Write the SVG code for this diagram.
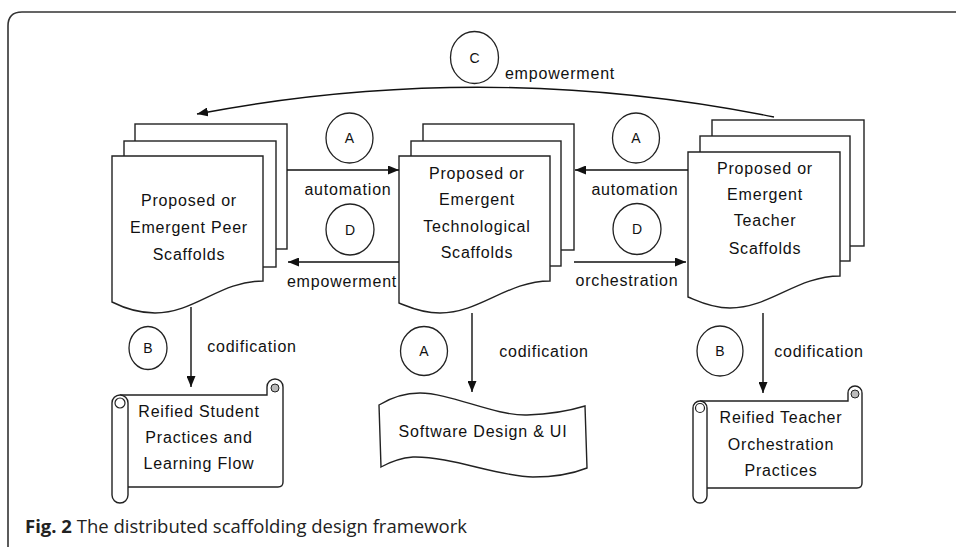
<svg xmlns="http://www.w3.org/2000/svg" width="956" height="547" viewBox="0 0 956 547">
<defs>
<marker id="ah" markerWidth="11" markerHeight="9" refX="11" refY="4.5" orient="auto" markerUnits="userSpaceOnUse">
<path d="M0,0 L11,4.5 L0,9 Z" fill="#111"/>
</marker>
<style>
.sh{fill:#fff;stroke:#222;stroke-width:1.4}
.ln{fill:none;stroke:#222;stroke-width:1.3}
.ar{fill:none;stroke:#111;stroke-width:1.4;marker-end:url(#ah)}
.t{font-family:"Liberation Sans",Arial,sans-serif;font-size:16px;fill:#111;text-anchor:middle;letter-spacing:0.8px}
.c{font-family:"Liberation Sans",Arial,sans-serif;font-size:14px;fill:#111;text-anchor:middle}
.cap{font-family:"Open Sans",sans-serif;font-size:18.5px;fill:#222}
</style>
</defs>
<rect width="956" height="547" fill="#fff"/>
<path d="M8,547 V26 Q8,12 22,12 H956" fill="none" stroke="#333" stroke-width="1.6"/>

<g id="peer">
<rect class="sh" x="135" y="124" width="152" height="125"/>
<rect class="sh" x="124" y="141" width="152" height="126"/>
<path class="sh" d="M112,156 H263 V281 C220,281 195,313 155,313 C135,313 120,306 112,302 Z"/>
<text class="t" x="189" y="206">Proposed or</text>
<text class="t" x="189" y="233">Emergent Peer</text>
<text class="t" x="189" y="260">Scaffolds</text>
</g>

<g id="tech">
<rect class="sh" x="423" y="124" width="151" height="126"/>
<rect class="sh" x="411" y="141" width="150" height="125"/>
<path class="sh" d="M399,156 H550 V281 C507,281 480,313 440,313 C420,313 407,306 399,303 Z"/>
<text class="t" x="477" y="179">Proposed or</text>
<text class="t" x="477" y="205">Emergent</text>
<text class="t" x="477" y="232">Technological</text>
<text class="t" x="477" y="258">Scaffolds</text>
</g>

<g id="teacher">
<rect class="sh" x="712" y="120" width="152" height="126"/>
<rect class="sh" x="700" y="136" width="150" height="125"/>
<path class="sh" d="M688,152 H840 V276 C797,276 770,308 730,308 C710,308 696,300 688,297 Z"/>
<text class="t" x="765" y="174">Proposed or</text>
<text class="t" x="765" y="200">Emergent</text>
<text class="t" x="765" y="226">Teacher</text>
<text class="t" x="765" y="254">Scaffolds</text>
</g>

<g id="student">
<path class="sh" d="M120,395 H267 V387 A8,8 0 0 1 283,387 V482 Q283,487 278,487 H128"/>
<circle cx="275" cy="388" r="4" fill="#bbb" stroke="#222" stroke-width="1"/>
<rect class="sh" x="112" y="395" width="16" height="108" rx="8"/>
<circle cx="120" cy="403" r="5" fill="none" stroke="#222" stroke-width="1.2"/>
<text class="t" x="199" y="417">Reified Student</text>
<text class="t" x="199" y="443">Practices and</text>
<text class="t" x="199" y="469">Learning Flow</text>
</g>

<g id="software">
<path class="sh" d="M379,405 C392,397 405,393 420,393 C450,393 495,416 527,415 C555,414 572,410 585,406 L587,468 C572,474 555,477 533,477 C500,477 450,456 413,457 C400,458 390,462 381,467 Z"/>
<text class="t" x="483" y="437">Software Design &amp; UI</text>
</g>

<g id="teacherpractice">
<path class="sh" d="M700,401 H848 V393 A7,7 0 0 1 862,393 V483 Q862,488 857,488 H707"/>
<circle cx="855" cy="394" r="4" fill="#bbb" stroke="#222" stroke-width="1"/>
<rect class="sh" x="693" y="401" width="14" height="102" rx="7"/>
<circle cx="700" cy="408" r="4.5" fill="none" stroke="#222" stroke-width="1.2"/>
<text class="t" x="781" y="423">Reified Teacher</text>
<text class="t" x="781" y="450">Orchestration</text>
<text class="t" x="781" y="476">Practices</text>
</g>

<g id="circles">
<ellipse class="ln" cx="474.5" cy="57.5" rx="24" ry="26"/><text class="c" x="474.5" y="62.5">C</text>
<ellipse class="ln" cx="349.5" cy="138" rx="23.5" ry="25"/><text class="c" x="349.5" y="143">A</text>
<ellipse class="ln" cx="350" cy="229.5" rx="24" ry="25.5"/><text class="c" x="350" y="234.5">D</text>
<ellipse class="ln" cx="636" cy="138" rx="23.5" ry="25"/><text class="c" x="636" y="143">A</text>
<ellipse class="ln" cx="637" cy="229" rx="24" ry="25.5"/><text class="c" x="637" y="234">D</text>
<ellipse class="ln" cx="148" cy="348" rx="19" ry="21.5"/><text class="c" x="148" y="353">B</text>
<ellipse class="ln" cx="424" cy="351" rx="23.5" ry="24.5"/><text class="c" x="424" y="356">A</text>
<ellipse class="ln" cx="720" cy="351" rx="23" ry="25"/><text class="c" x="720" y="356">B</text>
</g>

<g id="connectors">
<path class="ar" d="M287,170 H399"/>
<path class="ar" d="M399,262 H288"/>
<path class="ar" d="M688,170 H575"/>
<path class="ar" d="M574,262 H686"/>
<path class="ar" d="M774,117 Q485,59 197,114"/>
<path class="ar" d="M191,307 V387"/>
<path class="ar" d="M472,313 V392"/>
<path class="ar" d="M763,313 V393"/>
<text class="t" x="348" y="195">automation</text>
<text class="t" x="342" y="287">empowerment</text>
<text class="t" x="635" y="195">automation</text>
<text class="t" x="627" y="286">orchestration</text>
<text class="t" x="560" y="79">empowerment</text>
<text class="t" x="252" y="352">codification</text>
<text class="t" x="544" y="357">codification</text>
<text class="t" x="819" y="357">codification</text>
</g>

<text class="cap" x="25" y="533"><tspan font-weight="bold">Fig. 2</tspan> The distributed scaffolding design framework</text>
</svg>
